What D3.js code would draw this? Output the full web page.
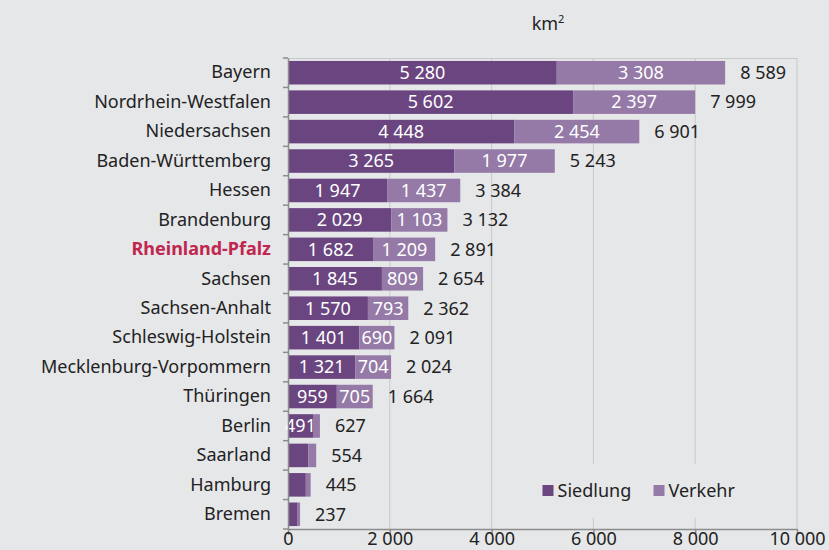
<!DOCTYPE html>
<html>
<head>
<meta charset="utf-8">
<script src="https://cdn.jsdelivr.net/npm/d3@7"></script>
<style>
  body { margin: 0; background: #e6e7e9; }
  svg { display: block; }
  svg text { font-family: "Noto Sans", "Open Sans", sans-serif; }
</style>
</head>
<body>
<svg id="chart" width="829" height="550"></svg>
<script>
// data
var laender = ['Bayern', 'Nordrhein-Westfalen', 'Niedersachsen', 'Baden-Württemberg', 'Hessen',
  'Brandenburg', 'Rheinland-Pfalz', 'Sachsen', 'Sachsen-Anhalt', 'Schleswig-Holstein',
  'Mecklenburg-Vorpommern', 'Thüringen', 'Berlin', 'Saarland', 'Hamburg', 'Bremen'];
var siedlung = [5280, 5602, 4448, 3265, 1947, 2029, 1682, 1845, 1570, 1401, 1321, 959, 491, 400, 350, 190];
var verkehr = [3308, 2397, 2454, 1977, 1437, 1103, 1209, 809, 793, 690, 704, 705, 136, 154, 95, 47];
var gesamt = [8589, 7999, 6901, 5243, 3384, 3132, 2891, 2654, 2362, 2091, 2024, 1664, 627, 554, 445, 237];
var xTicks = [0, 2000, 4000, 6000, 8000, 10000];
var serien = ['Siedlung', 'Verkehr'];
var farben = ['#6a4580', '#957aa7'];

var margin = {top: 58, right: 32, bottom: 21, left: 288};
var svg = d3.select('#chart');
var width = 829 - margin.left - margin.right;
var height = 550 - margin.top - margin.bottom;
var fmtSp = function(v) { return d3.format(',')(v).replace(/,/g, ' '); };
var fs = 18;

var x = d3.scaleLinear().domain([0, 10000]).range([0, width]);
var y = d3.scaleBand().domain(laender).range([0, height]).paddingInner(0.2).paddingOuter(0.1);

var g = svg.append('g').attr('transform', `translate(${margin.left},${margin.top})`);

// gridlines + top border
g.selectAll('.grid').data(xTicks.slice(1)).enter().append('line')
  .attr('x1', d => x(d)).attr('x2', d => x(d)).attr('y1', 0).attr('y2', height)
  .attr('stroke', '#c8c9cb').attr('stroke-width', 1);
g.append('line').attr('x1', 0).attr('x2', width).attr('y1', 0.5).attr('y2', 0.5)
  .attr('stroke', '#c8c9cb');

var rows = laender.map(function(l, i) {
  return {land: l, s: siedlung[i], v: verkehr[i], t: gesamt[i]};
});

// stacked bars
var stack = d3.stack().keys(['s', 'v'])(rows);
var layers = g.selectAll('.layer').data(stack).enter().append('g')
  .attr('fill', (d, i) => farben[i]);
layers.selectAll('rect').data(d => d).enter().append('rect')
  .attr('x', d => x(d[0])).attr('width', d => x(d[1]) - x(d[0]))
  .attr('y', d => y(d.data.land)).attr('height', y.bandwidth());

// white value labels inside the segments
layers.each(function(layer) {
  d3.select(this).selectAll('text').data(layer.filter(d => x(d[1]) - x(d[0]) > 22)).enter().append('text')
    .attr('x', d => (x(d[0]) + x(d[1])) / 2)
    .attr('y', d => y(d.data.land) + y.bandwidth() / 2)
    .attr('dy', '0.35em').attr('text-anchor', 'middle')
    .attr('fill', '#fff').attr('font-size', fs)
    .text(d => fmtSp(d[1] - d[0]));
});

// totals
g.selectAll('.total').data(rows).enter().append('text')
  .attr('x', d => x(d.t) + 15)
  .attr('y', d => y(d.land) + y.bandwidth() / 2)
  .attr('dy', '0.35em').attr('fill', '#222').attr('font-size', fs)
  .text(d => fmtSp(d.t));

// legend (background hides gridlines)
var leg = g.append('g').attr('transform', `translate(${x(5000) - 12},${height - 65})`);
leg.append('rect').attr('width', 215).attr('height', 54).attr('fill', '#e6e7e9');
var li = leg.selectAll('.li').data(serien).enter().append('g')
  .attr('transform', (d, i) => `translate(${12 + i * 111},27)`);
li.append('rect').attr('y', -6).attr('width', 11).attr('height', 11).attr('fill', (d, i) => farben[i]);
li.append('text').attr('x', 15).attr('dy', '0.35em').attr('font-size', fs).attr('fill', '#222').text(d => d);

// axes
var yAxis = g.append('g').call(d3.axisLeft(y).tickSize(0).tickPadding(17));
yAxis.select('.domain').attr('stroke', '#8c8c8c').attr('stroke-width', 1.5);
yAxis.selectAll('text').attr('font-size', fs).attr('fill', '#222')
  .filter(d => d === 'Rheinland-Pfalz').attr('fill', '#c0264f').attr('font-weight', 'bold');
yAxis.selectAll('.band-tick').data(d3.range(laender.length + 1)).enter().append('line')
  .attr('x1', -5).attr('x2', 0)
  .attr('y1', i => i * y.step())
  .attr('y2', i => i * y.step())
  .attr('stroke', '#8c8c8c').attr('stroke-width', 1.5);

var xAxis = g.append('g').attr('transform', `translate(0,${height})`)
  .call(d3.axisBottom(x).tickValues(xTicks).tickSize(6).tickFormat(fmtSp).tickSizeOuter(0));
xAxis.select('.domain').attr('stroke', '#8c8c8c').attr('stroke-width', 1.5);
xAxis.selectAll('line').attr('stroke', '#8c8c8c').attr('stroke-width', 1.5);
xAxis.selectAll('text').attr('font-size', fs).attr('fill', '#222').attr('y', 16).attr('dy', null);

// unit
var unit = svg.append('text').attr('x', 548).attr('y', 30).attr('text-anchor', 'middle')
  .attr('font-size', 18).attr('fill', '#222');
unit.append('tspan').text('km');
unit.append('tspan').attr('dy', -7).attr('font-size', 11).text('2');
</script>
</body>
</html>
